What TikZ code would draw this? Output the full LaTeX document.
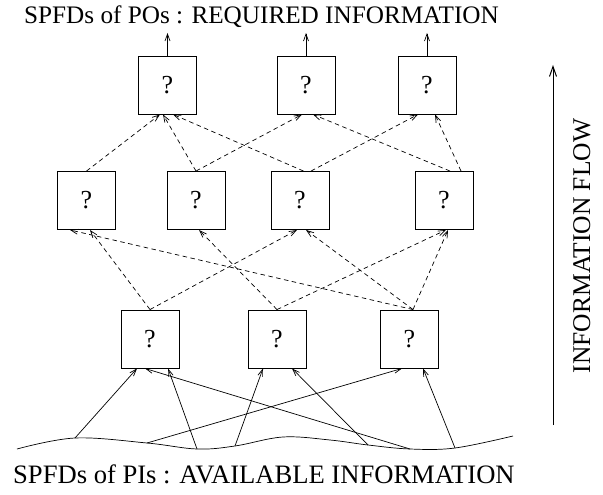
\documentclass[tikz,border=0pt]{standalone}
\usepackage{fontspec}
\setmainfont{Liberation Serif}
\usetikzlibrary{arrows.meta}
\tikzset{
  box/.style={draw=black, line width=0.9bp, minimum width=58bp, minimum height=58bp, inner sep=0pt,
    font=\fontsize{26bp}{30bp}\selectfont},
  dsh/.style={draw=black, line width=0.7bp, dash pattern=on 4.5bp off 3.5bp, -{Straight Barb[length=7bp,width=5bp]}},
  sol/.style={draw=black, line width=0.7bp, -{Straight Barb[length=7bp,width=5bp]}},
  flow/.style={draw=black, line width=1bp, -{Straight Barb[length=10bp,width=7bp]}},
  lbl/.style={inner sep=0pt, font=\fontsize{25.5bp}{30bp}\selectfont}
}
\begin{document}
\begin{tikzpicture}[x=1bp,y=-1bp]
\useasboundingbox (0,0) rectangle (603,495);
% boxes
\node[box] (T1) at (167.5,85) {?};
\node[box] (T2) at (306,85) {?};
\node[box] (T3) at (427,85) {?};
\node[box] (M1) at (86.5,200.5) {?};
\node[box] (M2) at (196,200.5) {?};
\node[box] (M3) at (300,200.5) {?};
\node[box] (M4) at (444,200.5) {?};
\node[box] (B1) at (150,339) {?};
\node[box] (B2) at (277,339) {?};
\node[box] (B3) at (409.5,339) {?};
% texts
\node[lbl, anchor=base west, font=\fontsize{25.2bp}{30bp}\selectfont] (top) at (24,24) {SPFDs of POs : REQUIRED INFORMATION};
\node[lbl, anchor=base west, font=\fontsize{26.6bp}{30bp}\selectfont] (bot) at (13,483) {SPFDs of PIs : AVAILABLE INFORMATION};
\node[lbl, anchor=base, rotate=90] (flowtxt) at (590,246) {INFORMATION FLOW};
% outputs
\coordinate (O1) at (167.5,33);
\coordinate (O2) at (306,33);
\coordinate (O3) at (427,33);
\draw[sol] (T1.north) -- (O1);
\draw[sol] (T2.north) -- (O2);
\draw[sol] (T3.north) -- (O3);
% middle -> top
\draw[dsh] (M1.north) -- ([xshift=-7.5bp]T1.south);
\draw[dsh] (M2.north) -- ([xshift=-4.5bp]T1.south);
\draw[dsh] ([xshift=3.5bp]M3.north) -- ([xshift=5.5bp]T1.south);
\draw[dsh] (M2.north) -- ([xshift=-4bp]T2.south);
\draw[dsh] ([xshift=6bp]M4.north) -- ([xshift=7bp]T2.south);
\draw[dsh] ([xshift=11bp]M3.north) -- ([xshift=-9bp]T3.south);
\draw[dsh] ([xshift=17bp]M4.north) -- ([xshift=8bp]T3.south);
% bottom -> middle
\draw[dsh] (B1.north) -- ([xshift=3.5bp]M1.south);
\draw[dsh] ([xshift=3.5bp]B3.north) -- ([xshift=-16.5bp]M1.south);
\draw[dsh] (B2.north) -- ([xshift=3bp]M2.south);
\draw[dsh] (B1.north) -- ([xshift=-3bp]M3.south);
\draw[dsh] ([xshift=3.5bp]B3.north) -- ([xshift=6bp]M3.south);
\draw[dsh] (B2.north) -- ([xshift=2bp]M4.south);
\draw[dsh] ([xshift=3.5bp]B3.north) -- ([xshift=4bp]M4.south);
% wave
\coordinate (W1) at (75,438);
\coordinate (W2) at (147,443);
\coordinate (W3) at (197,449);
\coordinate (W4) at (235,446);
\coordinate (W5) at (368,445);
\coordinate (W6) at (410,449);
\coordinate (W7) at (455,448);
\draw[line width=0.7bp] plot[smooth, tension=0.6] coordinates {(17,449) (75,438) (147,443) (197,449) (235,446) (283,437) (330,440) (368,445) (410,449) (455,448) (513,436)};
% wave -> bottom
\draw[sol] (W1) -- ([xshift=-13bp]B1.south);
\draw[sol] (W6) -- ([xshift=-5bp]B1.south);
\draw[sol] (W3) -- ([xshift=18bp]B1.south);
\draw[sol] (W4) -- ([xshift=-14bp]B2.south);
\draw[sol] (W5) -- ([xshift=15bp]B2.south);
\draw[sol] (W2) -- ([xshift=-7.5bp]B3.south);
\draw[sol] (W7) -- ([xshift=13.5bp]B3.south);
% information flow
\coordinate (F0) at (553,425);
\coordinate (F1) at (553,65);
\draw[flow] (F0) -- (F1);
\end{tikzpicture}
\end{document}
